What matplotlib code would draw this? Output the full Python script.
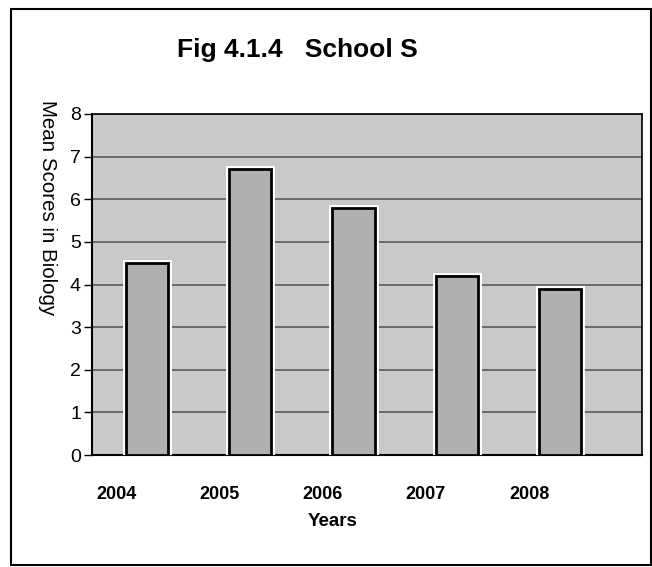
import matplotlib
matplotlib.use("Agg")
import matplotlib.pyplot as plt
import matplotlib.patheffects as pe
from matplotlib.patches import Rectangle
import numpy as np

years = ["2004", "2005", "2006", "2007", "2008"]
mean_scores = [4.5, 6.7, 5.8, 4.2, 3.9]
y_ticks = [0, 1, 2, 3, 4, 5, 6, 7, 8]

plt.rcParams['font.family'] = ['Liberation Sans', 'DejaVu Sans']

fig = plt.figure(figsize=(6.52, 5.67), dpi=100)
fig.patch.set_facecolor('white')

# outer frame
fig.patches.append(Rectangle((11/652, 2/567), 640/652, 556/567, transform=fig.transFigure,
                             fill=False, edgecolor='black', linewidth=1.5))

ax = fig.add_axes([92/652, (567-455)/567, 550/652, (455-114)/567])
ax.set_facecolor('#c9c9c9')

x = np.arange(len(years))
bars = ax.bar(x, mean_scores, width=0.41, color='#b0b0b0', edgecolor='black',
              linewidth=2, zorder=3)
for b in bars:
    b.set_path_effects([pe.Stroke(linewidth=5, foreground='white'), pe.Normal()])

ax.set_xlim(-0.533, 4.794)
ax.set_ylim(0, 8)
ax.set_yticks(y_ticks)
ax.set_yticklabels([str(t) for t in y_ticks], fontsize=14)
ax.yaxis.grid(True, color='#303030', linewidth=1.1, alpha=0.8, zorder=1)
ax.set_axisbelow(True)

ax.set_xticks(x - 0.3)
ax.set_xticklabels(years, fontsize=13, fontweight='bold')
ax.tick_params(axis='x', length=0, pad=22)
ax.tick_params(axis='y', length=6, width=1, pad=2)

for s in ['left', 'bottom']:
    ax.spines[s].set_linewidth(1.5)
for s in ['top', 'right']:
    ax.spines[s].set_linewidth(1.2)

fig.text(297/652, 1 - 50/567, "Fig 4.1.4   School S", fontsize=19, fontweight='bold',
         ha='center', va='center')
fig.text(47/652, 1 - 208/567, "Mean Scores in Biology", fontsize=14.8, rotation=270,
         ha='center', va='center')
fig.text(333/652, 1 - 521/567, "Years", fontsize=13.5, fontweight='bold',
         ha='center', va='center')

fig.savefig("out.png", dpi=100)
